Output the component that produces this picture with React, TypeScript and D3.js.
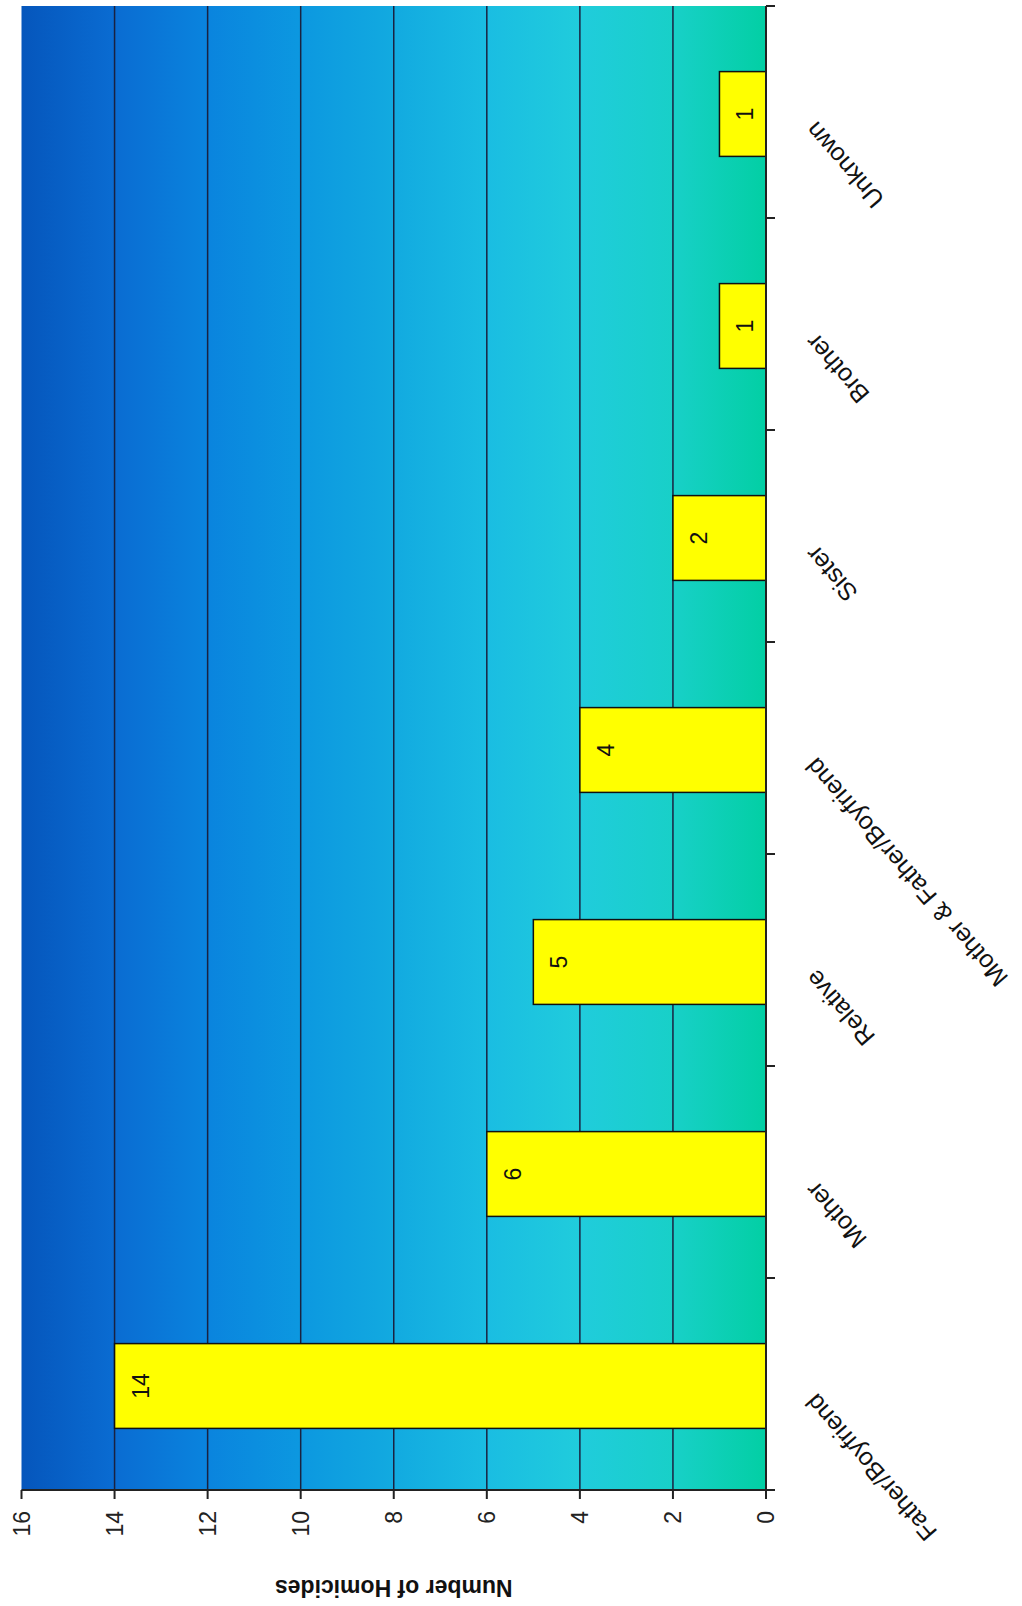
import React from "react";
import * as d3 from "d3";

const categories = [
  "Father/Boyfriend",
  "Mother",
  "Relative",
  "Mother & Father/Boyfriend",
  "Sister",
  "Brother",
  "Unknown",
];
const homicides = [14, 6, 5, 4, 2, 1, 1];
const valueTicks = [0, 2, 4, 6, 8, 10, 12, 14, 16];
const axisTitle = "Number of Homicides";

const gradientStops = [
  { o: 0, c: "#0556bc" },
  { o: 0.125, c: "#0a6cd2" },
  { o: 0.25, c: "#0a84de" },
  { o: 0.375, c: "#0c98e0" },
  { o: 0.5, c: "#12aae0" },
  { o: 0.625, c: "#1abde2" },
  { o: 0.75, c: "#20ccdc" },
  { o: 0.875, c: "#18d0c8" },
  { o: 1, c: "#02cfa4" },
];

export default function App() {
  const W = 1022;
  const H = 1606;
  const x = d3.scaleLinear().domain([0, 16]).range([766, 21.5]);
  const y = d3.scaleBand().domain(categories).range([1490, 6]).padding(0);
  const bw = y.bandwidth();
  const barH = bw * 0.4;
  const x0 = x(0);
  const plotTop = 6;
  const plotBottom = 1490;
  const font = "'Liberation Sans', Arial, sans-serif";

  return (
    <svg
      width={W}
      height={H}
      style={{ position: "absolute", left: 0, top: 0, background: "#fff" }}
    >
      <defs>
        <linearGradient id="bg" x1={x(16)} x2={x(0)} y1={0} y2={0} gradientUnits="userSpaceOnUse">
          {gradientStops.map((s, i) => (
            <stop key={i} offset={s.o} stopColor={s.c} />
          ))}
        </linearGradient>
      </defs>
      <rect x={0} y={0} width={W} height={H} fill="#fff" />
      <rect
        x={x(16)}
        y={plotTop}
        width={x(0) - x(16)}
        height={plotBottom - plotTop}
        fill="url(#bg)"
      />
      {/* gridlines */}
      {valueTicks
        .filter((v) => v > 0 && v < 16)
        .map((v) => (
          <line
            key={v}
            x1={x(v)}
            x2={x(v)}
            y1={plotTop}
            y2={plotBottom}
            stroke="#1a2240"
            strokeWidth={1.5}
          />
        ))}
      {/* bars */}
      {categories.map((c, i) => {
        const cy = (y(c) as number) + bw / 2 + 2;
        const v = homicides[i];
        return (
          <g key={c}>
            <rect
              x={x(v)}
              y={cy - barH / 2}
              width={x0 - x(v)}
              height={barH}
              fill="#ffff00"
              stroke="#111"
              strokeWidth={1.5}
            />
            <text
              transform={`translate(${x(v) + 26},${cy}) rotate(-90)`}
              textAnchor="middle"
              dominantBaseline="central"
              fontFamily={font}
              fontSize={23}
              fill="#111"
            >
              {v}
            </text>
          </g>
        );
      })}
      {/* value axis (bottom) */}
      <line x1={x(16)} x2={x0 + 9} y1={plotBottom} y2={plotBottom} stroke="#222" strokeWidth={2} />
      {valueTicks.map((v) => (
        <g key={v}>
          <line x1={x(v)} x2={x(v)} y1={plotBottom} y2={plotBottom + 9} stroke="#222" strokeWidth={2} />
          <text
            transform={`translate(${x(v)},${plotBottom + 21}) rotate(-90)`}
            textAnchor="end"
            dominantBaseline="central"
            fontFamily={font}
            fontSize={23}
            fill="#222"
          >
            {v}
          </text>
        </g>
      ))}
      {/* category axis (right) */}
      <line x1={x0} x2={x0} y1={plotTop} y2={plotBottom} stroke="#222" strokeWidth={2} />
      {categories.map((c) => (
        <line
          key={c}
          x1={x0}
          x2={x0 + 9}
          y1={y(c) as number}
          y2={y(c) as number}
          stroke="#222"
          strokeWidth={2}
        />
      ))}
      {categories.map((c) => {
        const cy = (y(c) as number) + bw / 2;
        return (
          <text
            key={c}
            transform={`translate(${817},${cy + 8}) rotate(229)`}
            textAnchor="end"
            fontFamily={font}
            fontSize={25}
            fill="#111"
          >
            {c}
          </text>
        );
      })}
      <text
        transform={`translate(${(x(0) + x(16)) / 2},${1588}) rotate(180)`}
        textAnchor="middle"
        dominantBaseline="central"
        fontFamily={font}
        fontSize={23}
        fontWeight="bold"
        fill="#111"
      >
        {axisTitle}
      </text>
    </svg>
  );
}
